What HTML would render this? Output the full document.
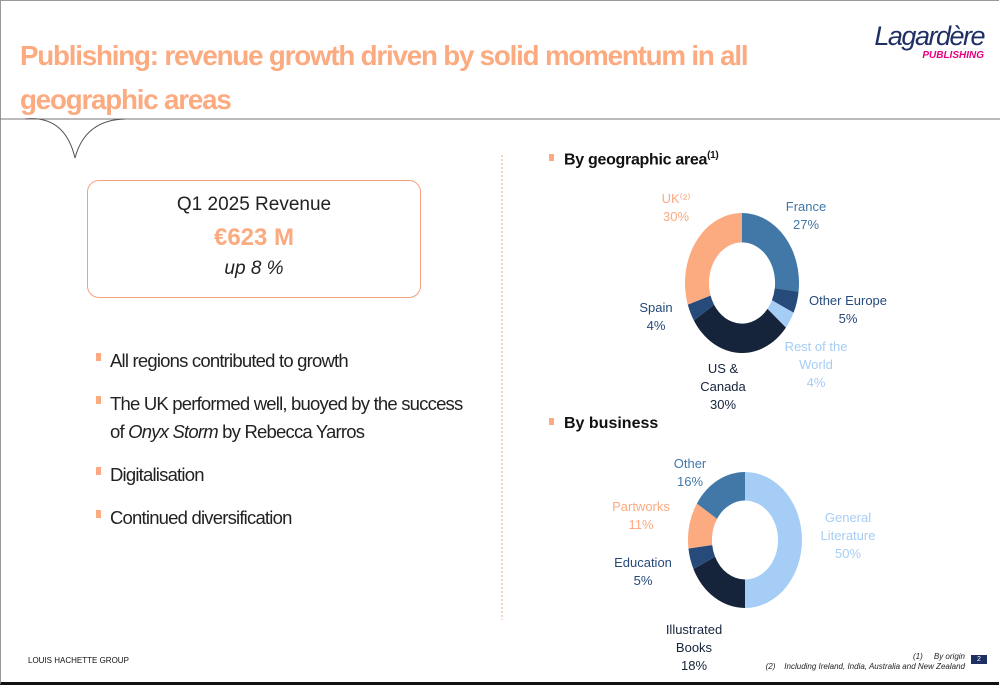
<!DOCTYPE html>
<html><head><meta charset="utf-8"><style>
body{margin:0;width:1000px;height:685px;overflow:hidden;background:#fff;font-family:"Liberation Sans",sans-serif;position:relative}
.abs{position:absolute}
</style></head><body>
<div class="abs" style="left:0;top:0;width:998px;height:681px;border-left:1px solid #999;border-top:1px solid #999;border-bottom:3px solid #111"></div>
<div class="abs" style="left:20px;top:34px;width:800px;font-size:28px;font-weight:bold;color:#fcaa80;line-height:44px;letter-spacing:-1.2px;transform:scaleX(0.99);transform-origin:0 0">Publishing: revenue growth driven by solid momentum in all<br>geographic areas</div>
<div class="abs" style="left:862px;top:22px;width:122px;text-align:right">
 <div style="font-size:27px;font-style:italic;color:#1f2f63;line-height:28px;letter-spacing:-1.5px">Lagardère</div>
 <div style="font-size:10px;font-style:italic;font-weight:bold;color:#e6007e">PUBLISHING</div>
</div>
<svg class="abs" style="left:0;top:0" width="1000" height="685">
 <line x1="0" y1="119" x2="1000" y2="119" stroke="#777" stroke-width="1"/>
 <path d="M25 119 Q65 115 75 158 Q85 120 125 119" fill="none" stroke="#555" stroke-width="1"/>
 <line x1="502" y1="155" x2="502" y2="620" stroke="#f4a080" stroke-width="1" stroke-dasharray="2,2"/>
</svg>
<div class="abs" style="left:87px;top:180px;width:332px;height:116px;border:1px solid #f4a080;border-radius:12px;text-align:center">
 <div style="font-size:19px;color:#222;margin-top:13px">Q1 2025 Revenue</div>
 <div style="font-size:24px;font-weight:bold;color:#fcaa80;margin-top:8px">€623 M</div>
 <div style="font-size:19px;font-style:italic;color:#222;margin-top:6px">up 8 %</div>
</div>
<div class="abs" style="left:96px;top:347px;width:400px;font-size:18.5px;color:#222;line-height:28px;letter-spacing:-0.8px">
 <div style="position:relative;padding-left:14px;margin-bottom:15px"><span style="position:absolute;left:0;top:6px;width:5px;height:8px;background:#fcaa80"></span>All regions contributed to growth</div>
 <div style="position:relative;padding-left:14px;margin-bottom:15px"><span style="position:absolute;left:0;top:6px;width:5px;height:8px;background:#fcaa80"></span>The UK performed well, buoyed by the success<br>of <i>Onyx Storm</i> by Rebecca Yarros</div>
 <div style="position:relative;padding-left:14px;margin-bottom:15px"><span style="position:absolute;left:0;top:6px;width:5px;height:8px;background:#fcaa80"></span>Digitalisation</div>
 <div style="position:relative;padding-left:14px"><span style="position:absolute;left:0;top:6px;width:5px;height:8px;background:#fcaa80"></span>Continued diversification</div>
</div>
<div class="abs" style="left:549px;top:150px;font-size:16px;font-weight:bold;color:#111;letter-spacing:-0.3px"><span style="display:inline-block;width:5px;height:7px;background:#fcaa80;margin-right:10px;vertical-align:3px"></span>By geographic area<sup style="font-size:10px">(1)</sup></div>
<div class="abs" style="left:549px;top:415px;font-size:16px;font-weight:bold;color:#111"><span style="display:inline-block;width:5px;height:7px;background:#fcaa80;margin-right:10px;vertical-align:3px"></span>By business</div>
<div class="abs" style="left:28px;top:656px;font-size:8px;color:#111">LOUIS HACHETTE GROUP</div>
<div class="abs" style="left:700px;top:652px;width:265px;font-size:8px;font-style:italic;color:#222;text-align:right;line-height:10px">(1)&nbsp;&nbsp;&nbsp;&nbsp;&nbsp;By origin<br>(2)&nbsp;&nbsp;&nbsp;&nbsp;Including Ireland, India, Australia and New Zealand</div>
<div class="abs" style="left:971px;top:655px;width:16px;height:9px;background:#1f2f63;color:#fff;font-size:7px;text-align:center;line-height:9px">2</div>
<svg id="chart" class="abs" style="left:0;top:0" width="1000" height="685"></svg>
<script>
const geoCats=["France","Other Europe","Rest of the World","US & Canada","Spain","UK"];
const geoVals=[27,5,4,30,4,30];
const bizCats=["General Literature","Illustrated Books","Education","Partworks","Other"];
const bizVals=[50,18,5,11,16];
const geoColors=["#4178a8","#264a7a","#a6cdf5","#15243a","#264a7a","#fcaa80"];
const bizColors=["#a6cdf5","#15243a","#264a7a","#fcaa80","#4178a8"];
const NS="http://www.w3.org/2000/svg";
const svg=document.getElementById('chart');
function donut(vals,colors,cx,cy,rx,ry,ratio,name){
  const tot=vals.reduce((a,b)=>a+b,0);let a0=0;
  vals.forEach((v,i)=>{
    const a1=a0+v/tot*2*Math.PI;
    const p=(a,r)=>[cx+rx*r*Math.sin(a),cy-ry*r*Math.cos(a)];
    const large=(a1-a0)>Math.PI?1:0;
    const [x0,y0]=p(a0,1),[x1,y1]=p(a1,1),[x2,y2]=p(a1,ratio),[x3,y3]=p(a0,ratio);
    const d=`M${x0} ${y0} A${rx} ${ry} 0 ${large} 1 ${x1} ${y1} L${x2} ${y2} A${rx*ratio} ${ry*ratio} 0 ${large} 0 ${x3} ${y3}Z`;
    const el=document.createElementNS(NS,'path');
    el.setAttribute('d',d);el.setAttribute('fill',colors[i]);
    
    
    svg.appendChild(el);a0=a1;
  });
}
donut(geoVals,geoColors,742,283,57,70,0.58,'geo');
donut(bizVals,bizColors,745,540,57,68,0.58,'business');
function label(lines,x,y,color,name){
  const t=document.createElementNS(NS,'text');
  t.setAttribute('x',x);t.setAttribute('y',y);t.setAttribute('fill',color);
  t.setAttribute('font-size','13');t.setAttribute('text-anchor','middle');
  t.setAttribute('font-family','Liberation Sans, sans-serif');
  lines.forEach((l,i)=>{const s=document.createElementNS(NS,'tspan');s.setAttribute('x',x);s.setAttribute('dy',i?18:0);s.textContent=l;t.appendChild(s);});
  
  
  svg.appendChild(t);
}
label(["France",geoVals[0]+"%"],806,211,"#4178a8","label-france");
label(["Other Europe",geoVals[1]+"%"],848,305,"#264a7a","label-other-europe");
label(["Rest of the","World",geoVals[2]+"%"],816,351,"#a6cdf5","label-rest-world");
label(["US &","Canada",geoVals[3]+"%"],723,373,"#15243a","label-us-canada");
label(["Spain",geoVals[4]+"%"],656,312,"#264a7a","label-spain");
label(["UK⁽²⁾",geoVals[5]+"%"],676,203,"#fcaa80","label-uk");
label(["General","Literature",bizVals[0]+"%"],848,522,"#a6cdf5","label-general-literature");
label(["Illustrated","Books",bizVals[1]+"%"],694,634,"#15243a","label-illustrated-books");
label(["Education",bizVals[2]+"%"],643,567,"#264a7a","label-education");
label(["Partworks",bizVals[3]+"%"],641,511,"#fcaa80","label-partworks");
label(["Other",bizVals[4]+"%"],690,468,"#4178a8","label-other");
</script>
</body></html>
